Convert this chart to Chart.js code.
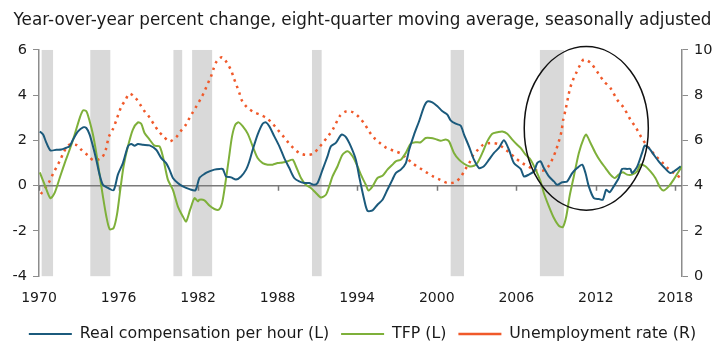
<!DOCTYPE html>
<html>
<head>
<meta charset="utf-8">
<script src="https://cdn.jsdelivr.net/npm/chart.js@4"></script>
<style>
  html, body { margin: 0; padding: 0; background: #fff; }
  #wrap { width: 725px; height: 354px; }
</style>
</head>
<body>
<div id="wrap"><canvas id="chart" width="725" height="354"></canvas></div>
<script>
// x tick labels (years)
const xTicks = [1970, 1976, 1982, 1988, 1994, 2000, 2006, 2012, 2018];

// Real compensation per hour (left axis)
const compYears = [1970.06,1970.31,1970.56,1970.86,1971.31,1971.69,1972.06,1972.31,1972.57,1972.94,1973.32,1973.57,1973.82,1974.07,1974.32,1974.57,1974.82,1975.2,1975.63,1975.95,1976.33,1976.71,1976.96,1977.21,1977.46,1977.84,1978.34,1978.84,1979.22,1979.59,1979.84,1980.1,1980.47,1980.85,1981.35,1981.8,
  1982.1,1982.48,1982.85,1983.23,1983.61,1983.86,1984.11,1984.49,1984.86,1985.24,1985.62,1985.87,1986.12,1986.49,1986.87,1987.12,1987.37,1987.75,1988.13,1988.5,1988.88,1989.25,1989.63,1990.01,1990.38,1990.76,1991.01,1991.39,1991.76,1992.02,1992.39,1992.82,1993.15,1993.52,1993.9,
  1994.15,1994.53,1994.78,1995.16,1995.53,1995.91,1996.28,1996.66,1996.91,1997.29,1997.67,1997.92,1998.29,1998.67,1999.05,1999.3,1999.67,2000.05,2000.43,2000.8,2001.05,2001.43,2001.81,2002.06,2002.43,2002.81,2003.19,2003.56,2003.94,2004.32,2004.69,2005.07,2005.45,2005.82,
  2006.33,2006.58,2006.95,2007.33,2007.58,2007.83,2008.08,2008.46,2008.84,2009.09,2009.46,2009.84,2010.22,2010.59,2010.97,2011.22,2011.47,2011.85,2012.23,2012.53,2012.78,2013.03,2013.35,2013.73,2013.98,2014.36,2014.61,2014.73,2015.11,2015.49,2015.69,2016.0,2016.37,2016.74,2017.12,2017.62,2018.0,2018.4];
const compValues = [2.40,2.26,1.89,1.56,1.59,1.60,1.68,1.74,2.04,2.40,2.58,2.55,2.26,1.74,1.15,0.49,0.04,-0.10,-0.20,0.49,1.00,1.74,1.84,1.77,1.84,1.81,1.78,1.59,1.22,1.00,0.71,0.34,0.12,-0.03,-0.15,-0.20,
  0.34,0.52,0.63,0.71,0.74,0.74,0.41,0.37,0.27,0.41,0.71,1.08,1.59,2.26,2.74,2.80,2.63,2.18,1.74,1.22,0.78,0.34,0.19,0.12,0.12,0.04,0.12,0.71,1.30,1.74,1.89,2.26,2.15,1.74,1.15,
  0.41,-0.62,-1.11,-1.09,-0.84,-0.62,-0.18,0.27,0.56,0.71,1.00,1.59,2.26,2.85,3.51,3.73,3.68,3.51,3.29,3.14,2.89,2.74,2.65,2.26,1.74,1.15,0.78,0.86,1.15,1.45,1.67,2.01,1.59,1.00,
  0.74,0.41,0.49,0.63,1.00,1.08,0.78,0.41,0.19,0.04,0.15,0.19,0.56,0.78,0.93,0.56,-0.03,-0.55,-0.59,-0.62,-0.18,-0.29,-0.03,0.34,0.74,0.74,0.74,0.56,0.83,1.45,1.77,1.67,1.37,1.08,0.83,0.56,0.68,0.86];

// TFP (left axis)
const tfpYears = [1970.06,1970.43,1970.86,1971.18,1971.56,1971.94,1972.31,1972.69,1973.07,1973.32,1973.57,1973.82,1974.07,1974.32,1974.57,1974.82,1975.08,1975.33,1975.63,1975.88,1976.13,1976.38,1976.71,1977.08,1977.46,1977.71,1977.96,1978.34,1978.71,1979.09,1979.34,1979.72,1980.1,1980.47,1980.85,1981.1,1981.4,1981.73,1981.98,
  1982.1,1982.48,1982.85,1983.23,1983.56,1983.81,1984.06,1984.31,1984.56,1984.81,1985.06,1985.36,1985.74,1986.12,1986.49,1986.87,1987.25,1987.62,1988.0,1988.38,1988.75,1989.13,1989.38,1989.76,1990.13,1990.51,1990.89,1991.26,1991.64,1991.89,1992.14,1992.52,1992.89,1993.27,1993.65,1994.02,
  1994.28,1994.65,1994.85,1995.16,1995.53,1995.91,1996.28,1996.66,1996.91,1997.29,1997.67,1998.04,1998.42,1998.79,1999.17,1999.55,1999.92,2000.3,2000.68,2000.93,2001.3,2001.68,2002.06,2002.43,2002.81,2003.06,2003.44,2003.81,2004.19,2004.57,2004.94,2005.32,2005.7,2006.07,
  2006.33,2006.7,2007.08,2007.46,2007.83,2008.08,2008.46,2008.84,2009.21,2009.51,2009.77,2010.02,2010.34,2010.72,2011.1,2011.27,2011.6,2011.97,2012.35,2012.73,2013.1,2013.43,2013.73,2014.03,2014.36,2014.73,2015.11,2015.36,2015.74,2016.12,2016.49,2016.87,2017.12,2017.5,2017.87,2018.25,2018.5];
const tfpValues = [0.59,0.04,-0.55,-0.32,0.34,1.00,1.59,2.26,2.99,3.33,3.29,2.85,2.26,1.45,0.49,-0.47,-1.36,-1.92,-1.87,-1.28,-0.18,0.86,1.74,2.48,2.80,2.74,2.33,2.04,1.77,1.74,1.30,0.27,-0.18,-0.91,-1.36,-1.58,-1.06,-0.55,-0.69,
  -0.62,-0.65,-0.88,-1.03,-1.06,-0.77,0.12,1.15,2.18,2.70,2.80,2.63,2.30,1.74,1.22,1.00,0.93,0.93,1.00,1.03,1.08,1.15,0.86,0.34,0.04,-0.10,-0.32,-0.52,-0.40,-0.03,0.41,0.86,1.37,1.52,1.30,0.86,
  0.49,0.04,-0.21,-0.03,0.34,0.44,0.71,0.93,1.08,1.15,1.45,1.86,1.92,1.92,2.11,2.11,2.06,1.99,2.04,1.96,1.45,1.15,0.97,0.86,0.88,1.00,1.45,1.96,2.30,2.36,2.40,2.30,2.04,1.81,
  1.67,1.37,1.15,0.71,0.19,-0.32,-0.91,-1.43,-1.77,-1.83,-1.36,-0.47,0.41,1.45,2.11,2.26,1.89,1.45,1.08,0.78,0.49,0.34,0.49,0.59,0.49,0.49,0.63,0.93,0.86,0.63,0.34,-0.10,-0.21,-0.03,0.27,0.63,0.86];

// Unemployment rate (right axis)
const unempYears = [1970.13,1970.48,1970.81,1971.06,1971.36,1971.61,1971.86,1972.24,1972.82,1973.19,1973.69,1974.12,1974.7,1975.0,1975.28,1975.58,1975.83,1976.2,1976.53,1976.83,1977.28,1977.64,1977.96,1978.34,1978.71,1979.04,1979.39,1979.84,1980.35,1980.67,1981.05,1981.35,1981.6,1981.9,
  1982.23,1982.48,1982.73,1982.98,1983.16,1983.41,1983.81,1984.18,1984.49,1984.69,1984.91,1985.11,1985.29,1985.67,1986.17,1986.67,1987.17,1987.62,1988.0,1988.43,1988.83,1989.18,1989.63,1990.13,1990.69,1991.09,1991.44,1991.84,1992.22,1992.72,1993.2,1993.7,
  1994.15,1994.6,1994.9,1995.28,1995.71,1996.21,1996.74,1997.29,1997.72,1998.22,1998.72,1999.22,1999.72,2000.23,2000.8,2001.35,2001.81,2002.13,2002.43,2002.69,2003.06,2003.51,2004.07,2004.64,2005.02,2005.57,2006.02,
  2006.45,2006.95,2007.46,2008.08,2008.46,2008.76,2009.01,2009.21,2009.41,2009.54,2009.72,2009.92,2010.09,2010.29,2010.54,2010.79,2011.1,2011.6,2012.17,2012.6,2013.1,2013.61,2014.11,2014.61,2015.04,2015.36,2015.74,2016.12,2016.49,2017.0,2017.5,2018.05,2018.5];
const unempValues = [3.63,3.90,4.21,4.53,4.86,5.15,5.47,5.80,5.80,5.59,5.34,5.12,5.22,5.52,6.18,6.51,6.89,7.48,7.80,8.07,7.88,7.58,7.29,7.02,6.67,6.40,6.18,5.96,6.15,6.40,6.67,6.99,7.24,7.54,
  7.88,8.17,8.51,8.84,9.16,9.50,9.68,9.43,9.10,8.76,8.42,8.10,7.78,7.48,7.26,7.14,6.99,6.74,6.48,6.18,5.89,5.67,5.45,5.36,5.42,5.67,5.92,6.21,6.55,7.10,7.29,7.24,
  7.02,6.69,6.40,6.11,5.89,5.67,5.55,5.42,5.22,4.97,4.78,4.59,4.41,4.27,4.12,4.15,4.38,4.71,4.97,5.30,5.56,5.81,5.89,5.84,5.67,5.42,5.18,
  5.00,4.83,4.68,4.68,4.88,5.22,5.59,5.96,6.40,6.92,7.36,7.95,8.37,8.69,9.01,9.31,9.58,9.43,8.98,8.62,8.32,7.80,7.44,6.92,6.55,6.21,5.86,5.59,5.33,5.03,4.74,4.49,4.30];

// Recession periods (start, end)
const recStart = [1970.2, 1973.87, 1980.14, 1981.55, 1990.59, 2001.05, 2007.78];
const recEnd   = [1971.06, 1975.38, 1980.8, 1983.06, 1991.32, 2002.06, 2009.59];

// highlighted period (ellipse) in data units: year span, left-axis span
const ellipseYears = [2006.6, 2015.96];
const ellipseRange = [-1.08, 6.15];

const FONT = '"DejaVu Sans", Verdana, sans-serif';

function toPoints(xs, ys) {
  return xs.map((x, i) => ({ x: x, y: ys[i] }));
}

// grey recession bars and zero line behind the lines, ellipse on top
const recessionBars = {
  id: 'recessionBars',
  beforeDatasetsDraw(chart) {
    const { ctx, chartArea, scales } = chart;
    ctx.save();
    ctx.fillStyle = '#d9d9d9';
    for (let i = 0; i < recStart.length; i++) {
      const x1 = scales.x.getPixelForValue(recStart[i]);
      const x2 = scales.x.getPixelForValue(recEnd[i]);
      ctx.fillRect(x1, chartArea.top, x2 - x1, chartArea.bottom - chartArea.top);
    }
    const y0 = scales.y.getPixelForValue(0);
    ctx.strokeStyle = '#7a7a7a';
    ctx.lineWidth = 1.5;
    ctx.beginPath();
    ctx.moveTo(chartArea.left, y0);
    ctx.lineTo(chartArea.right, y0);
    xTicks.forEach(t => {
      const x = Math.round(scales.x.getPixelForValue(t)) + 0.5;
      ctx.moveTo(x, y0);
      ctx.lineTo(x, y0 + 5);
    });
    ctx.stroke();
    ctx.restore();
  },
  afterDatasetsDraw(chart) {
    const { ctx, scales } = chart;
    const xa = scales.x.getPixelForValue(ellipseYears[0]);
    const xb = scales.x.getPixelForValue(ellipseYears[1]);
    const ya = scales.y.getPixelForValue(ellipseRange[0]);
    const yb = scales.y.getPixelForValue(ellipseRange[1]);
    ctx.save();
    ctx.strokeStyle = '#111';
    ctx.lineWidth = 1.5;
    ctx.beginPath();
    ctx.ellipse((xa + xb) / 2, (ya + yb) / 2, Math.abs(xb - xa) / 2, Math.abs(ya - yb) / 2, 0, 0, Math.PI * 2);
    ctx.stroke();
    ctx.restore();
  }
};

const ctx = document.getElementById('chart').getContext('2d');

const chart = new Chart(ctx, {
  type: 'line',
  data: {
    datasets: [
      {
        label: 'Real compensation per hour (L)',
        data: toPoints(compYears, compValues),
        borderColor: '#1b5a7c',
        borderWidth: 2,
        yAxisID: 'y',
        tension: 0.25
      },
      {
        label: 'TFP (L)',
        data: toPoints(tfpYears, tfpValues),
        borderColor: '#7eb03a',
        borderWidth: 2,
        yAxisID: 'y',
        tension: 0.25
      },
      {
        label: 'Unemployment rate (R)',
        data: toPoints(unempYears, unempValues),
        borderColor: '#f0592a',
        borderWidth: 2.5,
        borderDash: [2.5, 4.5],
        borderCapStyle: 'butt',
        yAxisID: 'y1',
        tension: 0.3
      }
    ]
  },
  options: {
    responsive: false,
    animation: false,
    elements: { point: { radius: 0 } },
    layout: { padding: { top: 0, bottom: 2, left: 0, right: 0 } },
    plugins: {
      title: {
        display: true,
        text: 'Year-over-year percent change, eight-quarter moving average, seasonally adjusted',
        color: '#1a1a1a',
        font: { family: FONT, size: 16.8, weight: 'normal' },
        padding: { top: 11, bottom: 18.8 }
      },
      legend: {
        position: 'bottom',
        labels: {
          usePointStyle: true,
          pointStyle: 'line',
          pointStyleWidth: 43,
          color: '#1a1a1a',
          font: { family: FONT, size: 15.8 },
          padding: 12
        }
      },
      tooltip: { enabled: false }
    },
    scales: {
      x: {
        type: 'linear',
        min: 1970,
        max: 2018.5,
        grid: { display: false, drawTicks: false },
        border: { display: false },
        afterBuildTicks: (scale) => { scale.ticks = xTicks.map(v => ({ value: v })); },
        afterFit: (scale) => { scale.height = 38; },
        ticks: {
          color: '#1a1a1a',
          font: { family: FONT, size: 14 },
          padding: 14,
          maxRotation: 0,
          autoSkip: false,
          callback: (v) => String(v)
        }
      },
      y: {
        position: 'left',
        min: -4,
        max: 6,
        afterFit: (scale) => { scale.width = 39; },
        ticks: { stepSize: 2, color: '#1a1a1a', font: { family: FONT, size: 14.5 }, padding: 6 },
        grid: { drawOnChartArea: false, drawTicks: true, tickLength: 6, color: '#8c8c8c' },
        border: { display: true, color: '#8c8c8c', width: 1.5 }
      },
      y1: {
        position: 'right',
        min: 0,
        max: 10,
        afterFit: (scale) => { scale.width = 43; },
        ticks: { stepSize: 2, color: '#1a1a1a', font: { family: FONT, size: 14.5 }, padding: 6 },
        grid: { drawOnChartArea: false, drawTicks: true, tickLength: 6, color: '#8c8c8c' },
        border: { display: true, color: '#8c8c8c', width: 1.5 }
      }
    }
  },
  plugins: [recessionBars]
});
</script>
</body>
</html>
